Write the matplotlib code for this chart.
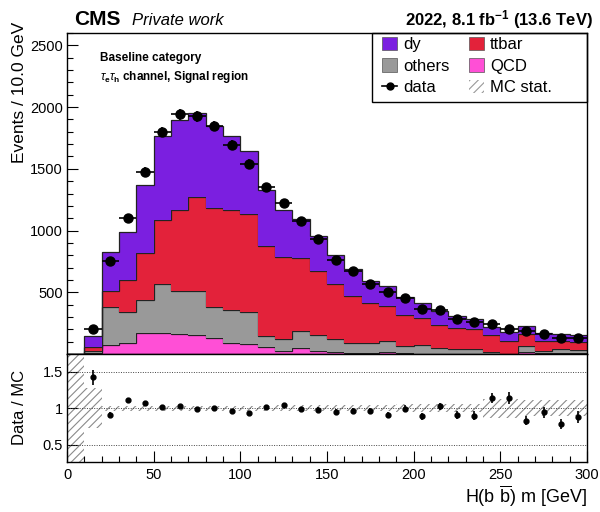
import numpy as np
import matplotlib.pyplot as plt
from matplotlib.patches import Patch, Rectangle
from matplotlib.lines import Line2D
from matplotlib.ticker import MultipleLocator, FixedLocator

plt.rcParams['font.family'] = ['Liberation Sans', 'DejaVu Sans']
plt.rcParams['mathtext.fontset'] = 'custom'
plt.rcParams['mathtext.rm'] = 'Liberation Sans'
plt.rcParams['mathtext.it'] = 'Liberation Sans:italic'
plt.rcParams['mathtext.bf'] = 'Liberation Sans:bold'
plt.rcParams['hatch.linewidth'] = 0.8

# binning: 10 GeV bins from 0 to 300
edges = np.arange(0, 310, 10)

# MC yields per process
qcd    = [0, 10, 76, 87, 170, 172, 164, 150, 128, 88, 82, 55, 28, 50, 28, 15, 10, 10, 17, 5,
          3, 2, 2, 2, 0, 0, 14, 5, 9, 5]
others = [0, 12, 306, 251, 268, 392, 349, 363, 256, 269, 262, 94, 97, 135, 129, 105, 77, 77, 87, 61,
          71, 45, 39, 39, 14, 2, 48, 23, 29, 28]
ttbar  = [0, 33, 130, 262, 380, 519, 654, 761, 802, 813, 788, 729, 657, 592, 513, 446, 381, 328, 286, 249,
          214, 191, 171, 159, 141, 101, 101, 81, 70, 62]
dy     = [0, 87, 312, 392, 554, 681, 726, 676, 659, 594, 513, 452, 388, 318, 285, 234, 224, 177, 164, 145,
          126, 114, 96, 85, 62, 73, 61, 62, 55, 55]

data = [np.nan, 202, 752, 1099, 1473, 1798, 1941, 1925, 1847, 1691, 1538, 1349, 1223, 1080, 935,
        758, 669, 567, 503, 457, 368, 360, 280, 256, 247, 200, 186, 161, 127, 132]

# relative MC stat. uncertainty per bin
mc_stat = [1.0, 0.27, 0.035, 0.035, 0.035, 0.035, 0.035, 0.035, 0.035, 0.035, 0.035, 0.035, 0.04, 0.04, 0.04,
           0.04, 0.04, 0.04, 0.04, 0.055, 0.055, 0.055, 0.055, 0.055, 0.13, 0.13, 0.11, 0.11, 0.11, 0.11]

procs = [('QCD', qcd, '#ff4fd6'), ('others', others, '#999999'),
         ('ttbar', ttbar, '#e3223a'), ('dy', dy, '#7b1fe0')]

W, H = 600, 512
fig = plt.figure(figsize=(6, 5.12), dpi=100)
ax = fig.add_axes([67 / W, 1 - 354 / H, 520 / W, 321 / H])
rax = fig.add_axes([67 / W, 1 - 462.3 / H, 520 / W, 108.3 / H], sharex=ax)

# stacked histogram
base = np.zeros(len(edges) - 1)
for name, vals, col in procs:
    top = base + np.array(vals, dtype=float)
    ax.stairs(top, edges, baseline=base, fill=True, color=col, lw=0)
    ax.stairs(top, edges, baseline=None, color='#222222', lw=0.9)
    base = top
mc = base

centers = 0.5 * (edges[1:] + edges[:-1])
data = np.array(data, dtype=float)
ax.errorbar(centers, data, xerr=5, yerr=np.sqrt(data), fmt='o', color='black',
            ms=6.5, lw=1.2, capsize=0, zorder=5)

ax.set_xlim(0, 300)
ax.set_ylim(0, 2600)
ax.yaxis.set_major_locator(FixedLocator([500, 1000, 1500, 2000, 2500]))
ax.yaxis.set_minor_locator(MultipleLocator(100))
ax.tick_params(axis='y', which='both', direction='in', labelsize=10.5, pad=3, width=0.8)
ax.tick_params(axis='y', which='major', length=8)
ax.tick_params(axis='y', which='minor', length=4)
ax.tick_params(axis='x', which='both', bottom=False, labelbottom=False)

# legend
handles = [Patch(facecolor='#7b1fe0', edgecolor='#555555', lw=0.5),
           Patch(facecolor='#999999', edgecolor='#555555', lw=0.5),
           Line2D([], [], color='black', marker='o', ms=5, lw=1.2),
           Patch(facecolor='#e3223a', edgecolor='#555555', lw=0.5),
           Patch(facecolor='#ff4fd6', edgecolor='#555555', lw=0.5),
           Patch(facecolor='none', edgecolor='#999999', hatch='////', lw=0)]
labels = ['dy', 'others', 'data', 'ttbar', 'QCD', 'MC stat.']
fig.legend(handles, labels, ncol=2, loc='upper left', bbox_to_anchor=(382 / W, 1 - 36.5 / H),
           fontsize=12, handlelength=0.9, handleheight=0.9, handletextpad=0.35,
           columnspacing=1.2, labelspacing=0.35, borderaxespad=0, borderpad=0,
           frameon=False)
fig.patches.append(Rectangle((372 / W, 1 - 101.7 / H), (587 - 372) / W, (101.7 - 33) / H,
                             transform=fig.transFigure, fill=False, edgecolor='black', lw=1.0))

fig.text(100 / W, 1 - 58 / H, 'Baseline category', fontsize=8.5, fontweight='bold', va='center')
fig.text(100 / W, 1 - 77 / H, r'$\tau_\mathbf{e}\tau_\mathbf{h}$ channel, Signal region',
         fontsize=8.5, fontweight='bold', va='center')

# ratio panel
ratio = data / np.where(mc > 0, mc, np.nan)
rerr = np.sqrt(data) / np.where(mc > 0, mc, np.nan)
rel = np.array(mc_stat)
rax.stairs(1 + rel, edges, baseline=1 - rel, fill=True, facecolor='none',
           edgecolor='#8a8a8a', hatch='////', lw=0)
for yy in [0.5, 1.0, 1.5]:
    rax.axhline(yy, color='#444444', ls=(0, (1, 1.5)), lw=0.7)
rax.errorbar(centers, ratio, yerr=rerr, fmt='o', color='black', ms=3.5, lw=1.2,
             capsize=0, zorder=5)
rax.set_ylim(0.26, 1.74)
rax.yaxis.set_major_locator(FixedLocator([0.5, 1.0, 1.5]))
rax.set_yticklabels(['0.5', '1', '1.5'])
rax.xaxis.set_major_locator(MultipleLocator(50))
rax.xaxis.set_minor_locator(MultipleLocator(10))
rax.tick_params(which='both', direction='in', labelsize=10.5, width=0.8)
rax.tick_params(which='major', length=8, pad=4)
rax.tick_params(which='minor', length=4)
rax.tick_params(axis='y', pad=3)
rax.set_xlabel(r'H(b $\overline{\mathrm{b}}$) m [GeV]', fontsize=13, loc='right', labelpad=1)

for a in (ax, rax):
    for s in a.spines.values():
        s.set_linewidth(1.0)

# axis titles and header
fig.text(20 / W, 1 - 22 / H, 'Events / 10.0 GeV', rotation=90, fontsize=12.5,
         ha='center', va='top')
fig.text(20 / W, 1 - 407 / H, 'Data / MC', rotation=90, fontsize=12,
         ha='center', va='center')
fig.text(74 / W, 1 - 25 / H, 'CMS', fontsize=15, fontweight='bold', va='baseline')
fig.text(132 / W, 1 - 25 / H, 'Private work', fontsize=12, style='italic', va='baseline')
fig.text(593 / W, 1 - 25 / H, r'2022, 8.1 fb$^{\mathbf{-1}}$ (13.6 TeV)', fontsize=12,
         fontweight='bold', ha='right', va='baseline')

fig.savefig('out.png', dpi=100)
